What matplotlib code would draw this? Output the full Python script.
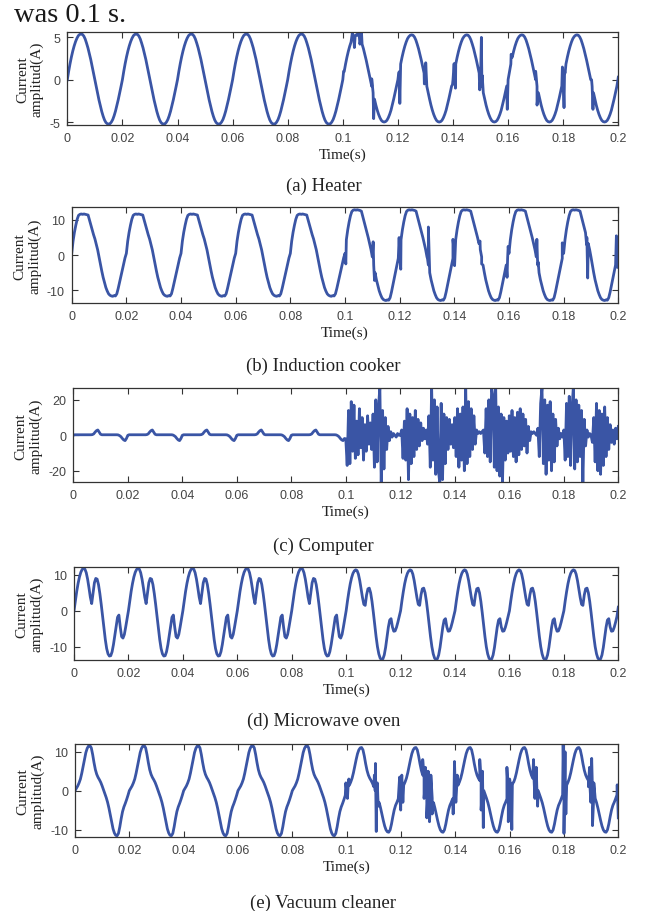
import numpy as np
import matplotlib
matplotlib.use("Agg")
import matplotlib.pyplot as plt

plt.rcParams['axes.unicode_minus'] = False
plt.rcParams['font.family'] = ['Liberation Sans', 'DejaVu Sans']

# ---------------- data ----------------
x_ticks = [0, 0.02, 0.04, 0.06, 0.08, 0.1, 0.12, 0.14, 0.16, 0.18, 0.2]
x_tick_labels = ["0", "0.02", "0.04", "0.06", "0.08", "0.1", "0.12", "0.14", "0.16", "0.18", "0.2"]
captions = ["(a) Heater", "(b) Induction cooker", "(c) Computer", "(d) Microwave oven", "(e) Vacuum cleaner"]
y_ticks = [[-5, 0, 5], [-10, 0, 10], [-20, 0, 20], [-10, 0, 10], [-10, 0, 10]]
y_limits = [(-5.35, 5.6), (-13.6, 13.6), (-26.5, 26.5), (-13.7, 12.1), (-12, 12)]

# one 20 ms cycle, sampled every 0.5 ms (before / after the event at 0.1 s)
heater_pre = [0, 1.0, 1.9, 2.7, 3.4, 4.0, 4.5, 4.9, 5.2, 5.35, 5.4, 5.35, 5.15, 4.8, 4.3, 3.75, 3.1, 2.4, 1.6, 0.8,
              0, -0.8, -1.6, -2.4, -3.1, -3.75, -4.3, -4.75, -5.05, -5.2, -5.25, -5.2, -5.0, -4.7, -4.25, -3.7, -3.05, -2.35, -1.6, -0.8]
heater_post = [0, 0.95, 1.85, 2.65, 3.35, 3.95, 4.45, 4.85, 5.1, 5.25, 5.3, 5.25, 5.05, 4.7, 4.2, 3.65, 3.0, 2.3, 1.55, 0.78,
               0, -0.78, -1.55, -2.3, -3.0, -3.6, -4.1, -4.5, -4.8, -4.95, -5.0, -4.95, -4.8, -4.5, -4.1, -3.6, -2.95, -2.25, -1.5, -0.75]
heater_spike_t = [0.1003, 0.1035, 0.1042, 0.1055, 0.1062, 0.1068, 0.1105, 0.1112, 0.1203, 0.1207, 0.1296, 0.1301,
                  0.1398, 0.1404, 0.1409, 0.1497, 0.1503, 0.1506, 0.1597, 0.1611, 0.1700, 0.1705, 0.1797, 0.1803,
                  0.1807, 0.1903, 0.1908]
heater_spike_v = [1.0, 5.6, 3.8, 5.7, 4.2, 5.5, 0.1, -4.6, 0.8, -2.8, -0.5, 2.0,
                  -0.6, 1.9, -1.0, -1.2, 5.0, 0.5, -3.5, 3.0, 1.0, -3.0, 1.5, -3.3,
                  0.8, 0.0, -3.5]
heater_end = 0.3

induction_pre = [0.5, 4.0, 6.5, 8.5, 10.2, 11.3, 11.6, 11.7, 11.6, 11.7, 11.6, 11.5, 11.4, 10.0, 8.6, 7.3, 5.8, 4.6, 3.0, 1.5,
                 -0.5, -2.5, -4.5, -6.3, -7.8, -9.2, -10.2, -11.0, -11.4, -11.6, -11.7, -11.5, -11.6, -11.0, -9.5, -7.8, -6.2, -4.3, -2.5, -0.8]
induction_post = [0.5, 4.4, 7.2, 9.4, 11.2, 12.4, 12.8, 12.9, 12.8, 12.9, 12.8, 12.7, 12.5, 11.0, 9.5, 8.0, 6.4, 5.0, 3.3, 1.6,
                  -0.5, -2.8, -5.0, -7.0, -8.6, -10.1, -11.2, -12.1, -12.6, -12.8, -12.9, -12.7, -12.8, -12.1, -10.5, -8.6, -6.8, -4.7, -2.8, -0.9]
induction_spike_t = [0.1003, 0.1103, 0.1108, 0.1198, 0.1204, 0.1302, 0.1305, 0.1395, 0.1401, 0.1494, 0.1500,
                     0.1593, 0.1597, 0.1702, 0.1707, 0.1795, 0.1884, 0.1888, 0.1993, 0.1997]
induction_spike_v = [-2.5, 3.8, -7.2, 5.0, -4.0, -1.0, 8.0, 4.5, -3.0, 4.0, -2.5,
                     -6.3, 2.5, 4.5, -2.0, 3.5, 3.0, -6.5, 5.5, -3.5]
induction_end = 3.0

computer_pre = [0.0, 0.3, 0.3, 0.3, 0.3, 0.3, 0.3, 0.3, 0.3, 0.3, 0.3, 0.3, 0.3, 0.3, 0.4, 0.8, 1.8, 2.6, 3.0, 1.8,
                0.6, 0.3, 0.3, 0.3, 0.3, 0.3, 0.3, 0.3, 0.3, 0.3, 0.3, 0.3, 0.3, 0.2, -0.2, -0.8, -1.8, -2.6, -3.0, -1.8]
computer_post = [
    -2, -17, 14, -16, 19, -9, 17, -13, 8, -11, 15, -7, 10, -14, 6, -9, 11, -5, 7, -8,
    12, -18, 20, -15, 16, 27, -27, 14, -19, 10, -8, 5, -3, 2, -1, 1, 0, -1, 1, 0,
    0, 3, -13, 8, -14, 15, -25, 12, -16, 10, -12, 14, -8, 9, -6, 7, -3, 4, -2, 3,
    -5, 11, -18, 27, -14, 20, -22, 16, -20, -27, 18, -25, 12, -16, 10, -8, 9, -5, 6, -7,
    10, -12, 15, -18, 12, -14, 16, -20, 27, -16, 19, -12, 15, -8, 11, -5, 3, 1, 2, 1,
    2, 3, -10, 15, -12, 20, -15, 27, 22, -18, 27, -20, 16, -23, 12, -27, 10, -14, 8, -10,
    11, -9, 14, -12, 10, -15, 13, -11, 15, -8, 12, -6, 9, -10, 5, -3, 2, 1, 2, 1,
    0, 4, -12, 18, 27, -16, 20, -22, 17, -14, 19, -20, 12, -15, 9, -6, 4, -2, 1, -1,
    3, -14, 18, -12, 22, -17, 15, 27, -19, 20, -15, 17, -12, 14, -27, 9, -6, 3, -1, 1,
    0, -4, 10, -15, 18, -20, 14, -22, 12, -17, 16, -12, 10, -8, 6, -4, 3, -5, 4, -2]
computer_end = 5.0

microwave_pre = [0.0, 2.8, 5.4, 7.6, 9.4, 10.7, 11.5, 11.8, 11.6, 10.6, 8.8, 6.4, 3.8, 2.0, 5.0, 7.8, 9.0, 8.8, 7.3, 4.8,
                 1.8, -1.5, -4.9, -8.0, -10.5, -12.0, -12.6, -12.5, -11.4, -9.4, -6.8, -4.0, -1.8, -1.2, -4.5, -7.2, -7.6, -6.6, -4.5, -2.2]
microwave_post = [0.0, 2.8, 5.3, 7.5, 9.2, 10.4, 11.1, 11.4, 11.2, 10.2, 8.4, 6.1, 3.7, 1.8, 1.5, 4.4, 6.1, 6.3, 5.0, 2.6,
                  -0.5, -3.9, -7.2, -10.0, -12.0, -13.2, -13.6, -13.4, -12.3, -10.2, -7.4, -4.6, -2.6, -2.2, -4.5, -5.7, -5.6, -4.6, -3.2, -1.6]
microwave_end = 1.0

vacuum_pre = [0, 0.6, 1.2, 2.0, 3.0, 4.5, 6.3, 8.2, 9.8, 10.9, 11.5, 11.6, 11.0, 9.3, 7.2, 5.4, 4.2, 3.4, 2.8, 2.1,
              1.2, 0.2, -0.8, -1.8, -3.0, -4.5, -6.3, -8.2, -9.8, -10.9, -11.5, -11.6, -11.0, -9.3, -7.2, -5.4, -4.2, -3.3, -2.3, -1.2]
vacuum_post = [0, 0.7, 1.4, 2.2, 3.2, 4.6, 6.3, 8.0, 9.5, 10.5, 11.0, 11.1, 10.5, 8.9, 6.9, 5.2, 4.0, 3.2, 2.6, 1.9,
               1.0, 0.0, -1.0, -2.0, -3.1, -4.5, -6.1, -7.7, -9.1, -10.1, -10.6, -10.7, -10.1, -8.6, -6.7, -5.0, -3.8, -3.0, -2.1, -1.1]
vacuum_spike_t = [0.0997, 0.1003, 0.1008, 0.1102, 0.1106, 0.1109, 0.1113, 0.1117, 0.1195, 0.1199, 0.1203, 0.1207,
                  0.1280, 0.1285, 0.1290, 0.1295, 0.1300, 0.1305, 0.1310, 0.1315, 0.1392, 0.1397, 0.1402, 0.1407,
                  0.1490, 0.1495, 0.1500, 0.1503, 0.1590, 0.1595, 0.1600, 0.1608, 0.1612, 0.1688, 0.1693, 0.1698,
                  0.1703, 0.1797, 0.1800, 0.1804, 0.1807, 0.1890, 0.1894, 0.1899, 0.1902, 0.1905, 0.1910, 0.1996]
vacuum_spike_v = [2.0, -2.0, 3.0, 4.0, 7.0, -10.5, 2.0, -4.0, 3.5, -5.0, 4.0, -3.0,
                  8.0, -2.0, 6.0, -7.0, 5.0, -8.0, 4.0, -6.0, -6.0, 7.5, -3.0, 4.0,
                  8.0, -5.0, 5.0, -9.5, 6.0, -8.0, 3.0, -10.0, 2.0, 8.0, -2.0, 6.0,
                  -4.0, 11.8, -11.0, 10.0, -6.0, 1.0, 6.0, -3.0, 8.3, -9.0, 2.0, 1.5]
vacuum_end = -7.0

# ---------------- series assembly ----------------
step = 0.0005
n_samples = 400
t_grid = np.append(np.arange(n_samples) * step, 0.2)


def assemble(pre, post, end, spike_t=(), spike_v=()):
    vals = np.array(list(pre) + list(post) + [end], dtype=float)
    t = np.concatenate([t_grid, np.asarray(spike_t, dtype=float)])
    v = np.concatenate([vals, np.asarray(spike_v, dtype=float)])
    order = np.argsort(t, kind="stable")
    return t[order], v[order]


series = [
    assemble(heater_pre * 5, heater_post * 5, heater_end, heater_spike_t, heater_spike_v),
    assemble(induction_pre * 5, induction_post * 5, induction_end, induction_spike_t, induction_spike_v),
    assemble(computer_pre * 5, computer_post, computer_end),
    assemble(microwave_pre * 5, microwave_post * 5, microwave_end),
    assemble(vacuum_pre * 5, vacuum_post * 5, vacuum_end, vacuum_spike_t, vacuum_spike_v),
]

# ---------------- figure ----------------
W, H = 647, 912
fig = plt.figure(figsize=(W / 100, H / 100), dpi=100)
fig.patch.set_facecolor("white")

# axes boxes in pixels: left, top, right, bottom
boxes = [(67.3, 33.3, 618.3, 126.0),
         (71.7, 208.3, 618.3, 304.0),
         (73.3, 389.3, 618.3, 483.3),
         (74.0, 568.3, 618.3, 661.0),
         (75.0, 745.0, 618.3, 838.3)]
caption_y = [186, 366, 546, 721, 903]

line_color = "#3A55A5"
serif = ["Liberation Serif", "DejaVu Serif"]

fig.text(14 / W, 1 - 22 / H, "was 0.1 s.", fontsize=20.5, family=serif, color="#1a1a1a",
         ha="left", va="baseline")

for i, (l, t, r, b) in enumerate(boxes):
    ax = fig.add_axes([l / W, 1 - b / H, (r - l) / W, (b - t) / H])
    tt, vv = series[i]
    ax.plot(tt, vv, color=line_color, lw=2.0, solid_joinstyle="round")
    ax.set_xlim(0, 0.2)
    ax.set_ylim(*y_limits[i])
    ax.set_xticks(x_ticks)
    ax.set_xticklabels(x_tick_labels)
    ax.set_yticks(y_ticks[i])
    ax.set_yticklabels([str(v) for v in y_ticks[i]])
    ax.tick_params(direction="in", length=4, width=0.8, color="#333333", top=True, right=True,
                   labelsize=9, labelcolor="#444444", pad=5)
    for sp in ax.spines.values():
        sp.set_color("#333333")
        sp.set_linewidth(0.9)
    ax.set_xlabel("Time(s)", family=serif, fontsize=11, color="#222222", labelpad=2.5)
    ax.set_ylabel("Current\namplitud(A)", family=serif, fontsize=11, color="#222222",
                  labelpad=4, linespacing=1.15)
    fig.text(0.5, 1 - caption_y[i] / H, captions[i], family=serif, fontsize=13.5,
             color="#222222", ha="center", va="center")

fig.savefig("out.png", dpi=100)
